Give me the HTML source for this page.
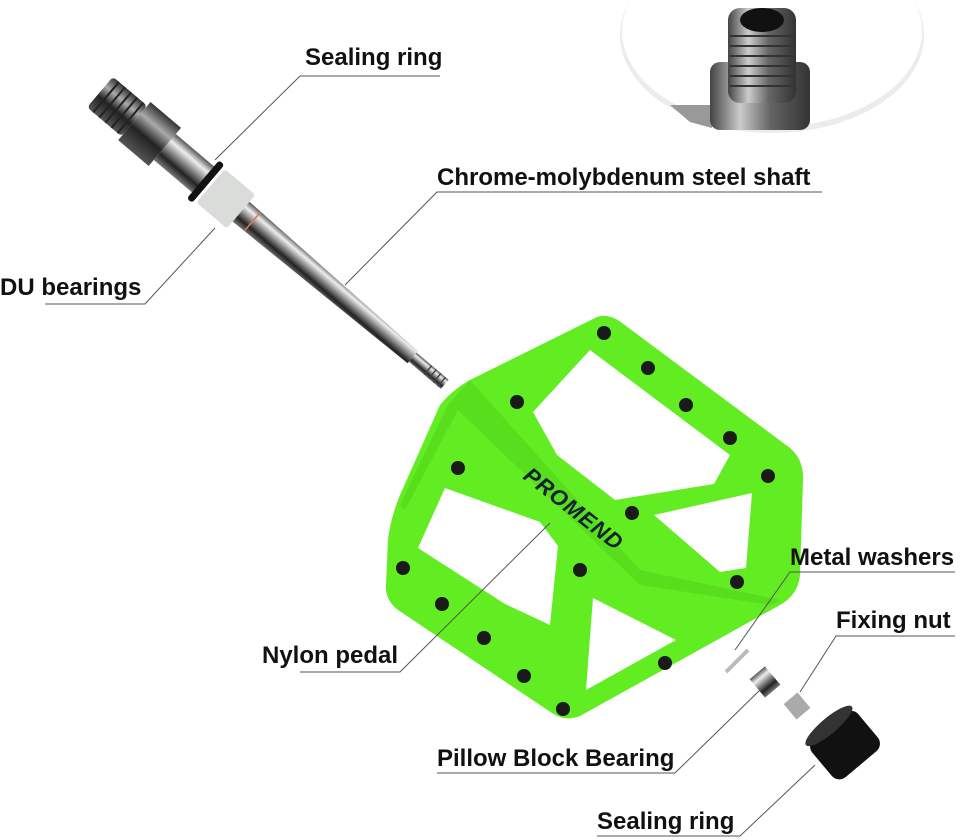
<!DOCTYPE html>
<html><head><meta charset="utf-8"><style>
html,body{margin:0;padding:0;background:#fff;}
svg{display:block;}
text{font-family:"Liberation Sans",sans-serif;font-weight:bold;font-size:24px;fill:#111;}
</style></head><body>
<svg width="962" height="840" viewBox="0 0 962 840" xmlns="http://www.w3.org/2000/svg">
<defs>
<linearGradient id="met" x1="0" y1="0" x2="0" y2="1">
<stop offset="0" stop-color="#555"/><stop offset="0.25" stop-color="#eee"/><stop offset="0.5" stop-color="#888"/><stop offset="0.75" stop-color="#222"/><stop offset="1" stop-color="#777"/></linearGradient>
<linearGradient id="dark" x1="0" y1="0" x2="0" y2="1">
<stop offset="0" stop-color="#333"/><stop offset="0.3" stop-color="#aaa"/><stop offset="0.6" stop-color="#222"/><stop offset="1" stop-color="#555"/></linearGradient>
<linearGradient id="hmet" x1="0" y1="0" x2="1" y2="0">
<stop offset="0" stop-color="#444"/><stop offset="0.3" stop-color="#ccc"/><stop offset="0.6" stop-color="#666"/><stop offset="1" stop-color="#333"/></linearGradient>
</defs>
<!-- top-right inset -->
<ellipse cx="772" cy="35" rx="152" ry="98" fill="#ececec"/>
<ellipse cx="772" cy="31" rx="150" ry="96" fill="#fff"/>
<path d="M670 105 L712 105 L712 128 L690 122 Z" fill="#999"/>
<rect x="710" y="62" width="100" height="68" rx="10" fill="url(#hmet)"/>
<rect x="728" y="8" width="68" height="95" rx="12" fill="url(#hmet)"/>
<ellipse cx="762" cy="20" rx="22" ry="12" fill="#111"/>
<g stroke="#333" stroke-width="2"><line x1="730" y1="36" x2="794" y2="36"/><line x1="730" y1="46" x2="794" y2="46"/><line x1="730" y1="56" x2="794" y2="56"/><line x1="730" y1="66" x2="794" y2="66"/><line x1="730" y1="76" x2="794" y2="76"/><line x1="730" y1="86" x2="794" y2="86"/></g>
<!-- shaft -->
<g transform="translate(100,92) rotate(40.3)">
<rect x="0" y="-20" width="45" height="40" rx="4" fill="url(#dark)"/>
<g stroke="#222" stroke-width="2"><line x1="8" y1="-20" x2="8" y2="20"/><line x1="16" y1="-20" x2="16" y2="20"/><line x1="24" y1="-20" x2="24" y2="20"/><line x1="32" y1="-20" x2="32" y2="20"/><line x1="40" y1="-20" x2="40" y2="20"/></g>
<rect x="45" y="-25" width="40" height="50" fill="url(#dark)"/>
<rect x="85" y="-17" width="55" height="34" fill="url(#met)"/>
<rect x="135" y="-25" width="7" height="50" rx="3" fill="#111"/>
<rect x="145" y="-22" width="40" height="44" rx="3" fill="#d9dcd9"/>
<path d="M185 -13 L410 -8 L410 8 L185 13 Z" fill="url(#met)"/>
<line x1="200" y1="-12" x2="200" y2="12" stroke="#d97a50" stroke-width="1.5"/>
<rect x="410" y="-6" width="42" height="12" fill="url(#met)"/>
<g stroke="#444" stroke-width="1.5"><line x1="430" y1="-6" x2="430" y2="6"/><line x1="436" y1="-6" x2="436" y2="6"/><line x1="442" y1="-6" x2="442" y2="6"/><line x1="448" y1="-6" x2="448" y2="6"/></g>
</g>
<!-- pedal -->
<path d="M470 380 L595 318 Q605 313 618 320 L790 448 Q804 460 803 480 L800 575 Q798 595 780 605 L580 716 Q565 722 552 713 L398 610 Q385 600 386 585 L388 540 Q390 520 400 495 L440 405 Q452 390 470 380 Z" fill="#62ec22"/>
<path d="M470 380 L448 405 L400 505 L405 510 L458 410 L640 585 L770 605 L780 600 L640 570 Z" fill="#4fd018" opacity="0.5"/>
<g fill="#fff">
<path d="M533 412 L590 350 L730 455 L714 484 L615 500 L557 455 Z"/>
<path d="M418 548 L445 488 L540 522 L558 546 L550 625 L505 604 Z"/>
<path d="M593 598 L676 640 L586 690 Z"/>
<path d="M654 515 L752 493 L746 568 L720 572 Z"/>
</g>
<text x="0" y="0" transform="translate(522,478) rotate(38)" style="font-size:22px;font-style:italic;fill:#123;letter-spacing:1px">PROMEND</text>
<g fill="#1a1a1a">
<circle cx="604" cy="333" r="7"/><circle cx="648" cy="368" r="7"/><circle cx="686" cy="405" r="7"/><circle cx="730" cy="438" r="7"/><circle cx="768" cy="476" r="7"/><circle cx="517" cy="402" r="7"/><circle cx="458" cy="468" r="7"/><circle cx="632" cy="513" r="7"/><circle cx="580" cy="570" r="7"/><circle cx="403" cy="568" r="7"/><circle cx="442" cy="604" r="7"/><circle cx="484" cy="638" r="7"/><circle cx="524" cy="676" r="7"/><circle cx="563" cy="709" r="7"/><circle cx="665" cy="663" r="7"/><circle cx="737" cy="582" r="7"/>
</g>
<!-- small parts -->
<line x1="726" y1="672" x2="748" y2="650" stroke="#bbb" stroke-width="4"/>
<g transform="translate(765,682) rotate(-40)"><rect x="-10" y="-12" width="20" height="24" fill="url(#met)"/></g>
<g transform="translate(797,706) rotate(-40)"><rect x="-9" y="-10" width="18" height="20" fill="#aaa"/></g>
<g transform="translate(845,745) rotate(-40)"><rect x="-30" y="-25" width="60" height="50" rx="10" fill="#111"/><ellipse cx="0" cy="-25" rx="30" ry="8" fill="#333"/></g>
<!-- leaders -->
<g stroke="#555" stroke-width="1" fill="none">
<polyline points="440,76 300,76 215,160"/>
<polyline points="822,192 437,192 345,285"/>
<polyline points="45,304 145,304 215,228"/>
<polyline points="955,572 790,572 735,650"/>
<polyline points="955,636 836,636 800,692"/>
<polyline points="300,672 400,672 550,523"/>
<polyline points="437,773 675,773 760,690"/>
<polyline points="597,836 740,836 815,765"/>
</g>
<text x="305" y="65">Sealing ring</text>
<text x="437" y="185">Chrome-molybdenum steel shaft</text>
<text x="0" y="295">DU bearings</text>
<text x="790" y="565">Metal washers</text>
<text x="836" y="628">Fixing nut</text>
<text x="262" y="663">Nylon pedal</text>
<text x="437" y="766">Pillow Block Bearing</text>
<text x="597" y="829">Sealing ring</text>
</svg>
</body></html>
